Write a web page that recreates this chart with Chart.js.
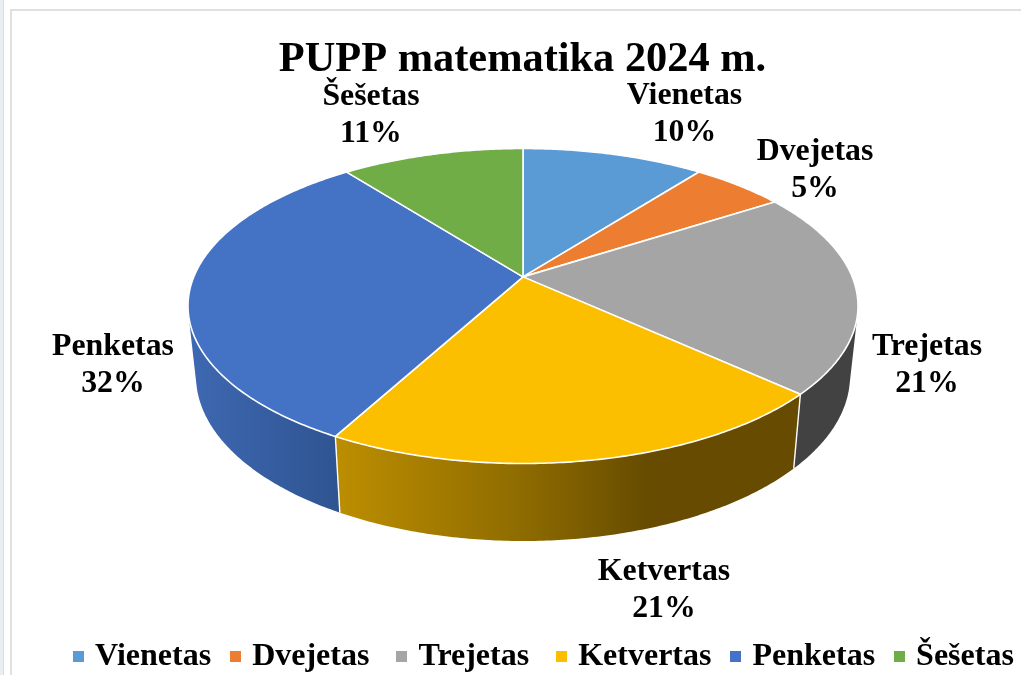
<!DOCTYPE html>
<html>
<head>
<meta charset="utf-8">
<style>
html,body{margin:0;padding:0;background:#fff;overflow:hidden}
#strip{position:absolute;left:0;top:0;width:3px;height:675px;background:#e9eef5;border-right:1px solid #dcdcdc}
#frame{position:absolute;left:10px;top:9px;width:1011px;height:666px;border-left:2px solid #e0e0e0;border-top:2px solid #e0e0e0;box-sizing:border-box}
canvas{position:absolute;left:0;top:0}
</style>
</head>
<body>
<div id="strip"></div><div id="frame"></div>
<canvas id="c" width="1021" height="675"></canvas>
<script src="https://cdn.jsdelivr.net/npm/chart.js@4/dist/chart.umd.js"></script>
<script>
const categories = ["Vienetas","Dvejetas","Trejetas","Ketvertas","Penketas","Šešetas"];
const shares = [10.49,5.4,20.9,21.1,31.55,10.51];
const colors = ["#5b9bd5","#ed7d31","#a5a5a5","#fbbf00","#4472c4","#70ad47"];
const titleText = "PUPP matematika 2024 m.";

// Layout of the perspective pie (top rim, bottom rim, tilt of the apex)
const TOP = {cx:523, cy:306, rx:335, ry:157.5};
const BOT = {cx:523, cy:376, rx:327, ry:165};
const TILT = -0.185;
const labelPos = [[684.5,95.5],[815,151.5],[927,346.5],[664,571.5],[113,346.5],[371,96.5]];
const LINE = 37.5;
const SERIF = "'Liberation Serif','Times New Roman',serif";

function rim(a, e){
  const u=Math.cos(a), v=Math.sin(a), d=1+TILT*v;
  return [e.cx+e.rx*u*Math.sqrt(1-TILT*TILT)/d, e.cy+e.ry*(v+TILT)/d];
}
function arcPts(a0,a1,e){
  const n=Math.max(2,Math.ceil((a1-a0)/0.01)), p=[];
  for(let i=0;i<=n;i++) p.push(rim(a0+(a1-a0)*i/n,e));
  return p;
}
function wallFill(ctx,i){
  const ramps = {
    3:{from:340,to:650,stops:[[0,"#bb8d00"],[0.58,"#8f6c00"],[1,"#664b00"]]},
    4:{from:190,to:340,stops:[[0,"#3e68b2"],[1,"#2f5491"]]}
  };
  if(i===2) return "#424242";
  if(!ramps[i]) return "#555555";
  const g=ctx.createLinearGradient(ramps[i].from,0,ramps[i].to,0);
  ramps[i].stops.forEach(s=>g.addColorStop(s[0],s[1]));
  return g;
}
function addQuad(ctx,q){
  let area=0;
  q.forEach((p,i)=>{const n=q[(i+1)%4]; area+=p[0]*n[1]-n[0]*p[1];});
  const o=area<0?q.slice().reverse():q;
  ctx.moveTo(o[0][0],o[0][1]);
  o.slice(1).forEach(p=>ctx.lineTo(p[0],p[1]));
  ctx.closePath();
}
const pie3d = {
  id:"pie3d",
  beforeDraw(chart){
    const lg=chart.legend;
    lg.left=54; lg.right=1100; lg.top=617;
    chart.titleBlock.left=24;
  },
  beforeDatasetsDraw(chart){
    const ctx=chart.ctx, arcs=chart.getDatasetMeta(0).data;
    ctx.save();
    ctx.lineJoin="round";
    arcs.forEach((el,i)=>{
      const t=arcPts(el.startAngle,el.endAngle,TOP), b=arcPts(el.startAngle,el.endAngle,BOT);
      ctx.beginPath();
      for(let k=0;k<t.length-1;k++) addQuad(ctx,[t[k],t[k+1],b[k+1],b[k]]);
      ctx.fillStyle=wallFill(ctx,i);
      ctx.fill();
    });
    ctx.strokeStyle="#ffffff"; ctx.lineWidth=1.4;
    arcs.forEach(el=>{
      const p=rim(el.startAngle,TOP), q=rim(el.startAngle,BOT);
      ctx.beginPath(); ctx.moveTo(p[0],p[1]); ctx.lineTo(q[0],q[1]); ctx.stroke();
    });
    const ax=TOP.cx, ay=TOP.cy+TOP.ry*TILT;
    arcs.forEach((el,i)=>{
      const t=arcPts(el.startAngle,el.endAngle,TOP);
      ctx.beginPath(); ctx.moveTo(ax,ay);
      t.forEach(p=>ctx.lineTo(p[0],p[1]));
      ctx.closePath();
      ctx.fillStyle=colors[i]; ctx.fill();
      ctx.strokeStyle="#ffffff"; ctx.lineWidth=1.6; ctx.stroke();
    });
    // data labels
    const total=shares.reduce((s,v)=>s+v,0);
    ctx.fillStyle="#000"; ctx.textAlign="center"; ctx.textBaseline="middle";
    ctx.font="bold 31.8px "+SERIF;
    categories.forEach((c,i)=>{
      ctx.fillText(c,labelPos[i][0],labelPos[i][1]);
      ctx.fillText(Math.round(shares[i]/total*100)+"%",labelPos[i][0],labelPos[i][1]+LINE);
    });
    ctx.restore();
    return false;
  }
};
function swatch(color){
  const s=document.createElement("canvas"); s.width=11; s.height=11;
  const x=s.getContext("2d"); x.fillStyle=color; x.fillRect(0,0,11,11);
  return s;
}
new Chart(document.getElementById("c"),{
  type:"pie",
  data:{labels:categories,datasets:[{data:shares,backgroundColor:colors,borderColor:"#fff",borderWidth:1.5}]},
  plugins:[pie3d],
  options:{
    responsive:false,animation:false,
    layout:{padding:0},
    plugins:{
      tooltip:{enabled:false},
      title:{display:true,text:titleText,color:"#000",font:{family:SERIF,size:42.4,weight:"bold"},padding:{top:35,bottom:0}},
      legend:{
        position:"bottom",align:"start",
        labels:{
          color:"#000",font:{family:SERIF,size:32,weight:"bold"},
          usePointStyle:true,pointStyleWidth:1.5,padding:23.5,
          generateLabels(chart){
            return categories.map((c,i)=>({
              text:(i===1||i===2)?c+"\u00a0":c,
              fillStyle:colors[i],strokeStyle:colors[i],lineWidth:0,
              pointStyle:swatch(colors[i]),index:i,hidden:false
            }));
          }
        }
      }
    }
  }
});
</script>
</body>
</html>
